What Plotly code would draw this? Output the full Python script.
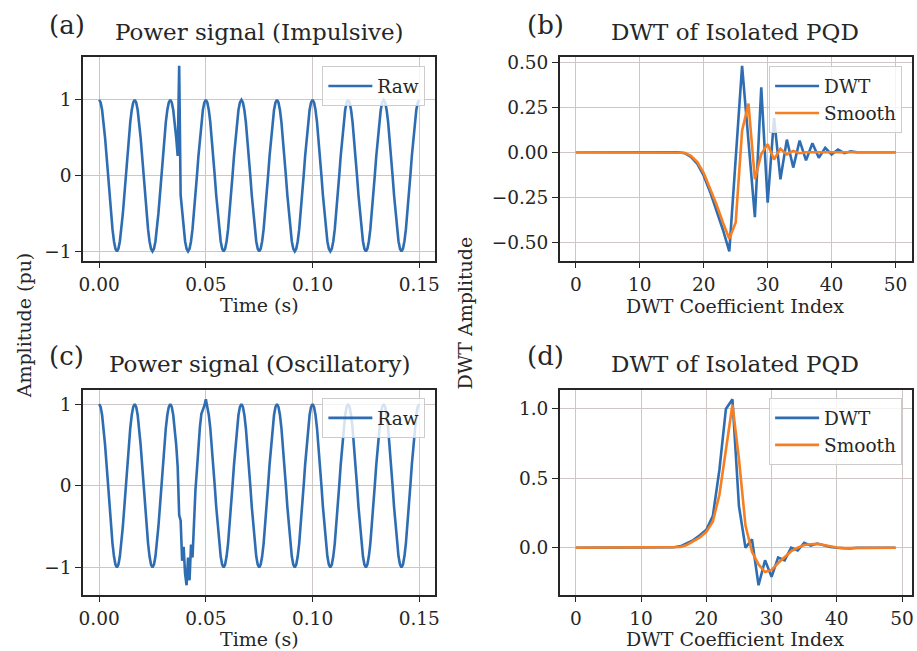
import plotly.graph_objects as go

# ---------------- data ----------------
fs = 1440          # samples per second of the plotted signals
t_start = 0.0

# (a) impulsive power signal (pu), 24 samples per 60 Hz cycle
raw_impulsive = [
    1.0, 0.966, 0.866, 0.707, 0.5, 0.259, 0.0, -0.259, -0.5, -0.707, -0.866, -0.966, -1.0, -0.966, -0.866, -0.707, -0.5, -0.259, 0.0, 0.259, 0.5, 0.707, 0.866, 0.966,
    1.0, 0.966, 0.866, 0.707, 0.5, 0.259, 0.0, -0.259, -0.5, -0.707, -0.866, -0.966, -1.0, -0.966, -0.866, -0.707, -0.5, -0.259, 0.0, 0.259, 0.5, 0.707, 0.866, 0.966,
    1.0, 0.966, 0.866, 0.707, 0.5, 0.259, 1.45, -0.259, -0.5, -0.707, -0.866, -0.966, -1.0, -0.966, -0.866, -0.707, -0.5, -0.259, 0.0, 0.259, 0.5, 0.707, 0.866, 0.966,
    1.0, 0.966, 0.866, 0.707, 0.5, 0.259, 0.0, -0.259, -0.5, -0.707, -0.866, -0.966, -1.0, -0.966, -0.866, -0.707, -0.5, -0.259, 0.0, 0.259, 0.5, 0.707, 0.866, 0.966,
    1.0, 0.966, 0.866, 0.707, 0.5, 0.259, 0.0, -0.259, -0.5, -0.707, -0.866, -0.966, -1.0, -0.966, -0.866, -0.707, -0.5, -0.259, 0.0, 0.259, 0.5, 0.707, 0.866, 0.966,
    1.0, 0.966, 0.866, 0.707, 0.5, 0.259, 0.0, -0.259, -0.5, -0.707, -0.866, -0.966, -1.0, -0.966, -0.866, -0.707, -0.5, -0.259, 0.0, 0.259, 0.5, 0.707, 0.866, 0.966,
    1.0, 0.966, 0.866, 0.707, 0.5, 0.259, 0.0, -0.259, -0.5, -0.707, -0.866, -0.966, -1.0, -0.966, -0.866, -0.707, -0.5, -0.259, 0.0, 0.259, 0.5, 0.707, 0.866, 0.966,
    1.0, 0.966, 0.866, 0.707, 0.5, 0.259, 0.0, -0.259, -0.5, -0.707, -0.866, -0.966, -1.0, -0.966, -0.866, -0.707, -0.5, -0.259, 0.0, 0.259, 0.5, 0.707, 0.866, 0.966,
    1.0, 0.966, 0.866, 0.707, 0.5, 0.259, 0.0, -0.259, -0.5, -0.707, -0.866, -0.966, -1.0, -0.966, -0.866, -0.707, -0.5, -0.259, 0.0, 0.259, 0.5, 0.707, 0.866, 0.966,
    1.0,
]

# (c) oscillatory power signal (pu)
raw_oscillatory = [
    1.0, 0.966, 0.866, 0.707, 0.5, 0.259, 0.0, -0.259, -0.5, -0.707, -0.866, -0.966, -1.0, -0.966, -0.866, -0.707, -0.5, -0.259, 0.0, 0.259, 0.5, 0.707, 0.866, 0.966,
    1.0, 0.966, 0.866, 0.707, 0.5, 0.259, 0.0, -0.259, -0.5, -0.707, -0.866, -0.966, -1.0, -0.966, -0.866, -0.707, -0.5, -0.259, 0.0, 0.259, 0.5, 0.707, 0.866, 0.966,
    1.0, 0.966, 0.866, 0.707, 0.5, 0.23, -0.36, -0.43, -0.92, -0.75, -1.08, -1.22, -0.88, -1.16, -0.72, -0.88, -0.36, -0.05, 0.2, 0.48, 0.72, 0.88, 0.92, 0.98,
    1.06, 0.966, 0.866, 0.707, 0.5, 0.259, 0.0, -0.259, -0.5, -0.707, -0.866, -0.966, -1.0, -0.966, -0.866, -0.707, -0.5, -0.259, 0.0, 0.259, 0.5, 0.707, 0.866, 0.966,
    1.0, 0.966, 0.866, 0.707, 0.5, 0.259, 0.0, -0.259, -0.5, -0.707, -0.866, -0.966, -1.0, -0.966, -0.866, -0.707, -0.5, -0.259, 0.0, 0.259, 0.5, 0.707, 0.866, 0.966,
    1.0, 0.966, 0.866, 0.707, 0.5, 0.259, 0.0, -0.259, -0.5, -0.707, -0.866, -0.966, -1.0, -0.966, -0.866, -0.707, -0.5, -0.259, 0.0, 0.259, 0.5, 0.707, 0.866, 0.966,
    1.0, 0.966, 0.866, 0.707, 0.5, 0.259, 0.0, -0.259, -0.5, -0.707, -0.866, -0.966, -1.0, -0.966, -0.866, -0.707, -0.5, -0.259, 0.0, 0.259, 0.5, 0.707, 0.866, 0.966,
    1.0, 0.966, 0.866, 0.707, 0.5, 0.259, 0.0, -0.259, -0.5, -0.707, -0.866, -0.966, -1.0, -0.966, -0.866, -0.707, -0.5, -0.259, 0.0, 0.259, 0.5, 0.707, 0.866, 0.966,
    1.0, 0.966, 0.866, 0.707, 0.5, 0.259, 0.0, -0.259, -0.5, -0.707, -0.866, -0.966, -1.0, -0.966, -0.866, -0.707, -0.5, -0.259, 0.0, 0.259, 0.5, 0.707, 0.866, 0.966,
    1.0,
]

# (b) DWT coefficients of isolated impulsive PQD, index 0..50
dwt_b = [
    0.0, 0.0, 0.0, 0.0, 0.0, 0.0, 0.0, 0.0, 0.0, 0.0, 0.0, 0.0, 0.0, 0.0, 0.0, 0.0, 0.0,
    -0.005, -0.025, -0.065, -0.13, -0.22, -0.32, -0.43, -0.55, -0.04, 0.48, 0.06, -0.36,
    0.36, -0.28, 0.19, -0.15, 0.07, -0.085, 0.065, -0.045, 0.05, -0.03, 0.025, -0.012,
    0.015, -0.005, 0.005,
    0.0, 0.0, 0.0, 0.0, 0.0, 0.0, 0.0,
]
smooth_b = [
    0.0, 0.0, 0.0, 0.0, 0.0, 0.0, 0.0, 0.0, 0.0, 0.0, 0.0, 0.0, 0.0, 0.0, 0.0, 0.0, 0.0,
    -0.003, -0.02, -0.055, -0.115, -0.2, -0.29, -0.39, -0.48, -0.39, 0.12, 0.27, -0.15,
    -0.01, 0.045, -0.04, 0.02, -0.012, 0.008, -0.005,
    0.0, 0.0, 0.0, 0.0, 0.0, 0.0, 0.0, 0.0, 0.0, 0.0, 0.0, 0.0, 0.0, 0.0, 0.0,
]

# (d) DWT coefficients of isolated oscillatory PQD, index 0..49
dwt_d = [
    0.0, 0.0, 0.0, 0.0, 0.0, 0.0, 0.0, 0.0, 0.0, 0.0, 0.0, 0.0, 0.0, 0.0, 0.0,
    0.003, 0.01, 0.03, 0.055, 0.09, 0.13, 0.23, 0.56, 1.0, 1.07, 0.3, 0.0, 0.06, -0.27,
    -0.09, -0.21, -0.07, -0.09, 0.0, -0.02, 0.035, 0.015, 0.03, 0.015, 0.005, 0.0,
    -0.005, -0.005,
    0.0, 0.0, 0.0, 0.0, 0.0, 0.0, 0.0,
]
smooth_d = [
    0.0, 0.0, 0.0, 0.0, 0.0, 0.0, 0.0, 0.0, 0.0, 0.0, 0.0, 0.0, 0.0, 0.0, 0.0, 0.0,
    0.005, 0.02, 0.045, 0.075, 0.115, 0.19, 0.38, 0.7, 1.03, 0.64, 0.16, -0.03, -0.12,
    -0.175, -0.16, -0.11, -0.065, -0.025, 0.0, 0.02, 0.025, 0.028, 0.02, 0.01, 0.002,
    -0.003, -0.003,
    0.0, 0.0, 0.0, 0.0, 0.0, 0.0, 0.0,
]

time_ticks = [0.0, 0.05, 0.10, 0.15]
time_ticktext = ["0.00", "0.05", "0.10", "0.15"]
sig_ticks = [-1, 0, 1]
sig_ticktext = ["\u22121", "0", "1"]
idx_ticks = [0, 10, 20, 30, 40, 50]
idx_ticktext = ["0", "10", "20", "30", "40", "50"]
dwtb_ticks = [-0.5, -0.25, 0.0, 0.25, 0.5]
dwtb_ticktext = ["\u22120.50", "\u22120.25", "0.00", "0.25", "0.50"]
dwtd_ticks = [0.0, 0.5, 1.0]
dwtd_ticktext = ["0.0", "0.5", "1.0"]

# ---------------- style ----------------
W, H = 917, 651
FONT = "DejaVu Serif"
INK = "#262626"
BLUE = "#2f6db2"
ORANGE = "#f57f22"
GRID = "#cdc6c4"


def fx(p):
    return p / W


def fy(p):
    return 1 - p / H


fig = go.Figure()

fig.add_trace(go.Scatter(y=raw_impulsive, x0=t_start, dx=1.0 / fs, mode="lines", name="Raw",
                         line=dict(color=BLUE, width=2.6), xaxis="x", yaxis="y", legend="legend"))
fig.add_trace(go.Scatter(y=dwt_b, x0=0, dx=1, mode="lines", name="DWT",
                         line=dict(color=BLUE, width=2.6), xaxis="x2", yaxis="y2", legend="legend2"))
fig.add_trace(go.Scatter(y=smooth_b, x0=0, dx=1, mode="lines", name="Smooth",
                         line=dict(color=ORANGE, width=2.6), xaxis="x2", yaxis="y2", legend="legend2"))
fig.add_trace(go.Scatter(y=raw_oscillatory, x0=t_start, dx=1.0 / fs, mode="lines", name="Raw",
                         line=dict(color=BLUE, width=2.6), xaxis="x3", yaxis="y3", legend="legend3"))
fig.add_trace(go.Scatter(y=dwt_d, x0=0, dx=1, mode="lines", name="DWT",
                         line=dict(color=BLUE, width=2.6), xaxis="x4", yaxis="y4", legend="legend4"))
fig.add_trace(go.Scatter(y=smooth_d, x0=0, dx=1, mode="lines", name="Smooth",
                         line=dict(color=ORANGE, width=2.6), xaxis="x4", yaxis="y4", legend="legend4"))

axis_style = dict(showline=True, linecolor=INK, linewidth=1.6, mirror=True,
                  ticks="outside", ticklen=6, tickwidth=1.3, tickcolor=INK,
                  showgrid=True, gridcolor=GRID, gridwidth=1.2, zeroline=False,
                  tickfont=dict(family=FONT, size=18.5, color=INK))

def ax(domain, anchor, rng, vals, text, **kw):
    d = dict(axis_style)
    d.update(domain=domain, anchor=anchor, range=rng, tickvals=vals, ticktext=text,
             tickmode="array", autorange=False)
    d.update(kw)
    return d

xl = [fx(79), fx(435)]
xr = [fx(561), fx(916.5)]
yt = [fy(258), fy(52)]
yb = [fy(595), fy(388.5)]

legend_style = dict(bgcolor="rgba(255,255,255,0.8)", bordercolor="#cccccc", borderwidth=1,
                    font=dict(family=FONT, size=18.5, color=INK), xanchor="right", yanchor="top",
                    itemwidth=44)

fig.update_layout(
    width=W, height=H,
    margin=dict(l=0, r=0, t=0, b=0),
    paper_bgcolor="white", plot_bgcolor="white",
    font=dict(family=FONT, color=INK),
    xaxis=ax(xl, "y", [-0.0075, 0.1575], time_ticks, time_ticktext),
    yaxis=ax(yt, "x", [-1.1225, 1.5725], sig_ticks, sig_ticktext),
    xaxis2=ax(xr, "y2", [-2.5, 52.5], idx_ticks, idx_ticktext),
    yaxis2=ax(yt, "x2", [-0.6015, 0.5315], dwtb_ticks, dwtb_ticktext),
    xaxis3=ax(xl, "y3", [-0.0075, 0.1575], time_ticks, time_ticktext),
    yaxis3=ax(yb, "x3", [-1.334, 1.174], sig_ticks, sig_ticktext),
    xaxis4=ax(xr, "y4", [-2.45, 51.45], idx_ticks, idx_ticktext),
    yaxis4=ax(yb, "x4", [-0.337, 1.137], dwtd_ticks, dwtd_ticktext),
    legend=dict(legend_style, x=fx(425), y=fy(62)),
    legend2=dict(legend_style, x=fx(907), y=fy(62)),
    legend3=dict(legend_style, x=fx(425), y=fy(397)),
    legend4=dict(legend_style, x=fx(907), y=fy(397)),
    showlegend=True,
)

def note(text, x, y, size, angle=0):
    fig.add_annotation(text=text, x=x, y=y, xref="paper", yref="paper",
                       xanchor="center", yanchor="middle", showarrow=False,
                       textangle=angle, font=dict(family=FONT, size=size, color=INK))

# subplot titles
note("Power signal (Impulsive)", fx(257), fy(27.5), 23)
note("DWT of Isolated PQD", fx(738.5), fy(27.5), 23)
note("Power signal (Oscillatory)", fx(257), fy(362.5), 23)
note("DWT of Isolated PQD", fx(738.5), fy(362.5), 23)
# panel letters
note("(a)", fx(62.5), fy(20.5), 26)
note("(b)", fx(546), fy(20.5), 26)
note("(c)", fx(62.5), fy(354), 26)
note("(d)", fx(546), fy(354), 26)
# axis labels
note("Time (s)", fx(257), fy(302.5), 19)
note("DWT Coefficient Index", fx(738.5), fy(303.5), 19)
note("Time (s)", fx(257), fy(639.5), 19)
note("DWT Coefficient Index", fx(738.5), fy(640), 19)
note("Amplitude (pu)", fx(19.5), fy(323), 19, -90)
note("DWT Amplitude", fx(465.5), fy(311), 19, -90)

fig.write_html("out.html", config={"displayModeBar": False},
               post_script="document.body.style.margin='0';document.body.style.overflow='hidden';")
